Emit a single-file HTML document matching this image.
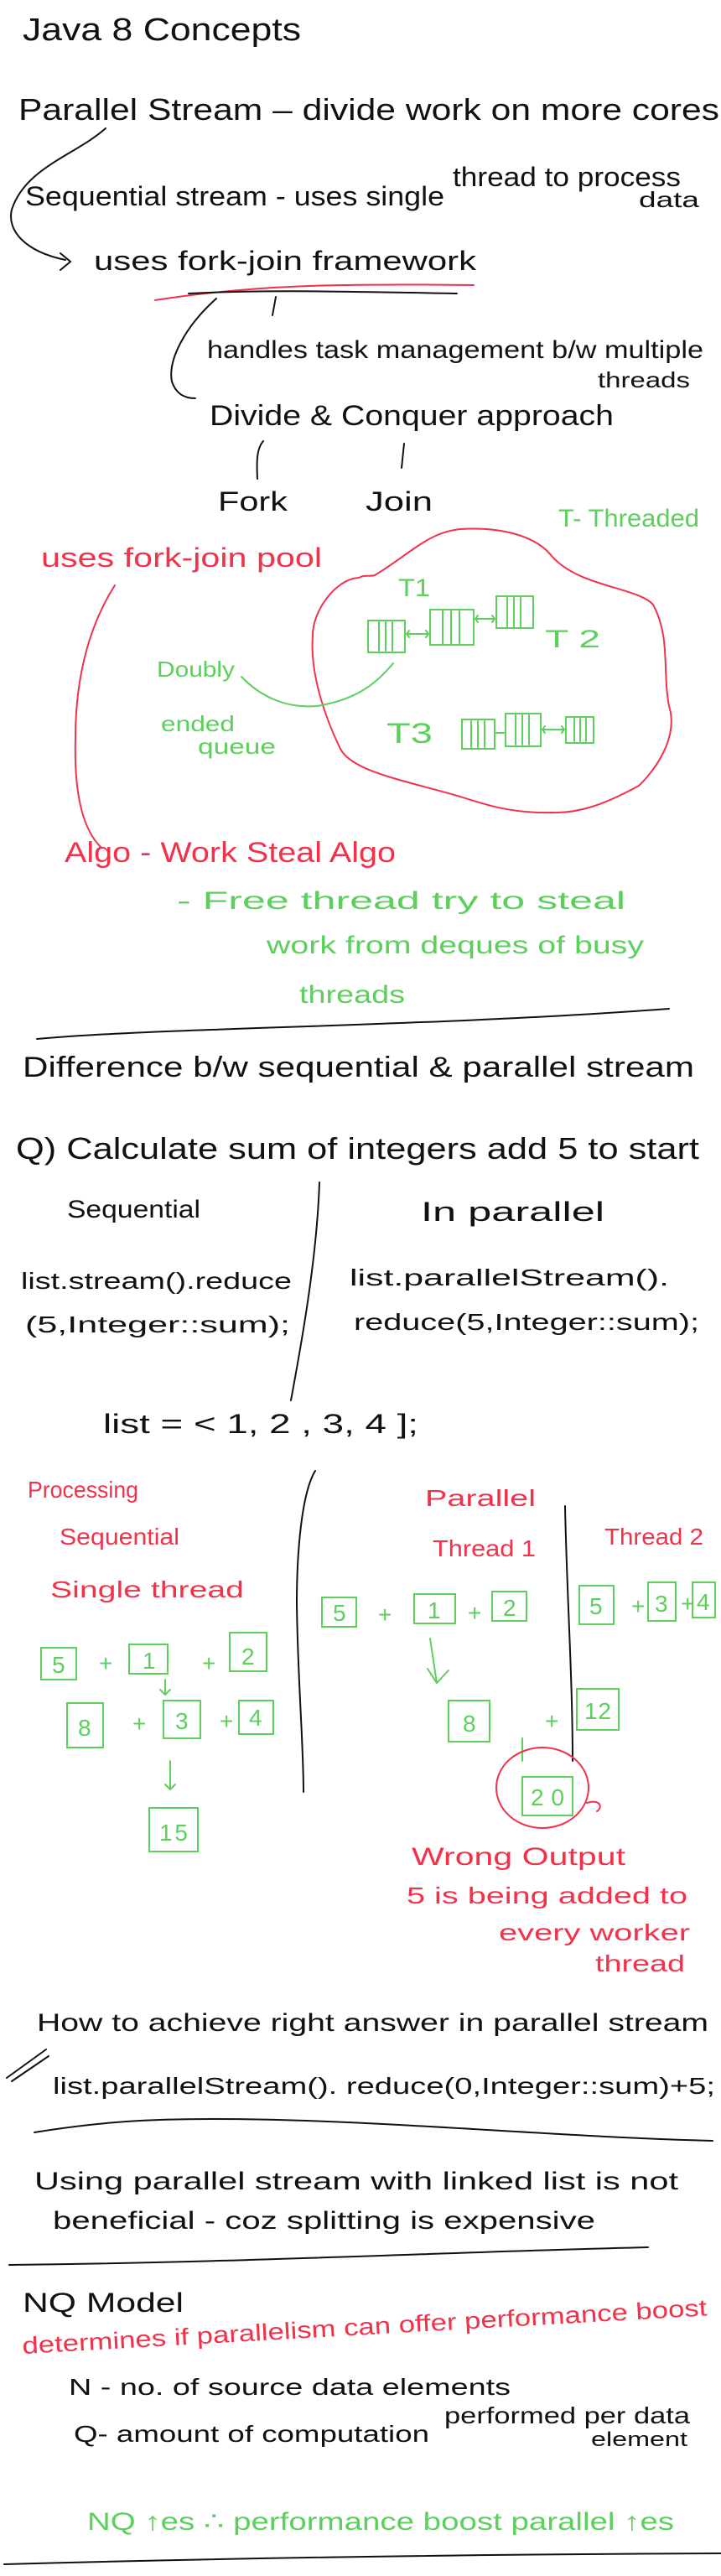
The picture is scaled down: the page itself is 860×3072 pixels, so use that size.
<!DOCTYPE html>
<html><head><meta charset="utf-8"><style>
html,body{margin:0;padding:0;background:#fff;}
svg{display:block;}
text{font-family:"Liberation Sans",sans-serif;}
.k{fill:#111;}
.r{fill:#f0334a;}
.g{fill:#5ccf5c;}
.ks{stroke:#111;fill:none;stroke-width:2;stroke-linecap:round;}
.rs{stroke:#f0334a;fill:none;stroke-width:2;stroke-linecap:round;}
.gs{stroke:#5ccf5c;fill:none;stroke-width:2;stroke-linecap:round;}
</style></head><body>
<svg width="860" height="3072" viewBox="0 0 860 3072" xmlns="http://www.w3.org/2000/svg">
<!-- header -->
<text class="k" x="27" y="48" font-size="38" textLength="332" lengthAdjust="spacingAndGlyphs">Java 8 Concepts</text>
<text class="k" x="22" y="143" font-size="36" textLength="836" lengthAdjust="spacingAndGlyphs">Parallel Stream – divide work on more cores</text>
<text class="k" x="30" y="245" font-size="32" textLength="500" lengthAdjust="spacingAndGlyphs">Sequential stream - uses single</text>
<text class="k" x="540" y="222" font-size="32" textLength="272" lengthAdjust="spacingAndGlyphs">thread to process</text>
<text class="k" x="762" y="247" font-size="26" textLength="72" lengthAdjust="spacingAndGlyphs">data</text>
<path class="ks" d="M126 153 C90 185 30 200 14 250 C8 275 30 300 78 310"/>
<path class="ks" d="M72 302 L84 312 L72 322"/>
<text class="k" x="112" y="322" font-size="32" textLength="456" lengthAdjust="spacingAndGlyphs">uses fork-join framework</text>
<path class="rs" d="M185 358 C300 340 400 338 565 340"/>
<path class="ks" d="M225 350 C320 345 420 348 545 350"/>
<path class="ks" d="M329 354 L325 376"/>
<path class="ks" d="M258 356 C220 390 200 430 205 455 C210 470 220 475 233 475"/>
<text class="k" x="247" y="427" font-size="30" textLength="592" lengthAdjust="spacingAndGlyphs">handles task management b/w multiple</text>
<text class="k" x="713" y="462" font-size="26" textLength="110" lengthAdjust="spacingAndGlyphs">threads</text>
<text class="k" x="250" y="507" font-size="34" textLength="482" lengthAdjust="spacingAndGlyphs">Divide &amp; Conquer approach</text>
<path class="ks" d="M314 526 C306 535 306 550 307 571"/>
<path class="ks" d="M482 529 L479 558"/>
<text class="k" x="260" y="609" font-size="32" textLength="83" lengthAdjust="spacingAndGlyphs">Fork</text>
<text class="k" x="436" y="609" font-size="32" textLength="80" lengthAdjust="spacingAndGlyphs">Join</text>
<text class="g" x="666" y="628" font-size="30" textLength="168" lengthAdjust="spacingAndGlyphs">T- Threaded</text>
<text class="r" x="49" y="676" font-size="32" textLength="335" lengthAdjust="spacingAndGlyphs">uses fork-join pool</text>
<!-- red connector down -->
<path class="rs" d="M137 698 C110 740 90 800 90 880 C88 950 100 990 120 1010"/>
<!-- blob -->
<path class="rs" d="M447 686 C490 660 510 635 549 631 C600 628 640 640 658 663 C690 700 760 700 779 721 C800 760 790 800 798 842 C810 880 780 920 762 937 C720 960 690 970 658 969 C610 970 580 960 549 950 C480 930 420 920 406 893 C385 850 370 800 373 759 C372 730 400 690 428 689 C435 685 440 688 447 686"/>
<!-- T1 -->
<text class="g" x="475" y="711" font-size="30" textLength="38" lengthAdjust="spacingAndGlyphs">T1</text>
<g class="gs">
<rect x="439" y="740" width="44" height="38"/><path d="M452 742V776M460 742V776M468 742V776"/>
<rect x="513" y="727" width="52" height="42"/><path d="M528 729V767M538 729V767M548 729V767"/>
<rect x="592" y="711" width="44" height="38"/><path d="M605 713V747M613 713V747M621 713V747"/>
<path d="M485 756H511M488 752L485 756L488 760M508 752L511 756L508 760"/>
<path d="M567 738H590M570 734L567 738L570 742M587 734L590 738L587 742"/>
</g>
<text class="g" x="650" y="772" font-size="30" textLength="66" lengthAdjust="spacingAndGlyphs">T 2</text>
<text class="g" x="461" y="886" font-size="34" textLength="55" lengthAdjust="spacingAndGlyphs">T3</text>
<g class="gs">
<rect x="551" y="858" width="39" height="35"/><path d="M562 860V891M570 860V891M578 860V891"/>
<rect x="603" y="851" width="42" height="39"/><path d="M615 853V888M623 853V888M631 853V888"/>
<rect x="675" y="855" width="33" height="31"/><path d="M685 857V884M692 857V884M699 857V884"/>
<path d="M592 874H601M647 870H673M650 866L647 870L650 874M670 866L673 870L670 874"/>
</g>
<text class="g" x="187" y="807" font-size="26" textLength="93" lengthAdjust="spacingAndGlyphs">Doubly</text>
<text class="g" x="192" y="872" font-size="26" textLength="88" lengthAdjust="spacingAndGlyphs">ended</text>
<text class="g" x="236" y="899" font-size="26" textLength="93" lengthAdjust="spacingAndGlyphs">queue</text>
<path class="gs" d="M288 807 C310 830 340 845 378 842 C420 835 445 820 469 791"/>
<!-- algo -->
<text class="r" x="77" y="1028" font-size="34" textLength="395" lengthAdjust="spacingAndGlyphs">Algo - Work Steal Algo</text>
<text class="g" x="211" y="1084" font-size="30" textLength="535" lengthAdjust="spacingAndGlyphs">- Free thread try to steal</text>
<text class="g" x="318" y="1137" font-size="30" textLength="450" lengthAdjust="spacingAndGlyphs">work from deques of busy</text>
<text class="g" x="357" y="1196" font-size="30" textLength="126" lengthAdjust="spacingAndGlyphs">threads</text>
<path class="ks" d="M44 1239 C200 1225 500 1225 798 1203"/>
<!-- difference -->
<text class="k" x="27" y="1284" font-size="34" textLength="801" lengthAdjust="spacingAndGlyphs">Difference b/w sequential &amp; parallel stream</text>
<text class="k" x="19" y="1382" font-size="36" textLength="815" lengthAdjust="spacingAndGlyphs">Q) Calculate sum of integers add 5 to start</text>
<text class="k" x="80" y="1452" font-size="30" textLength="159" lengthAdjust="spacingAndGlyphs">Sequential</text>
<text class="k" x="502" y="1456" font-size="32" textLength="219" lengthAdjust="spacingAndGlyphs">In parallel</text>
<path class="ks" d="M381 1410 C378 1500 360 1600 347 1670"/>
<text class="k" x="25" y="1537" font-size="28" textLength="323" lengthAdjust="spacingAndGlyphs">list.stream().reduce</text>
<text class="k" x="30" y="1589" font-size="28" textLength="316" lengthAdjust="spacingAndGlyphs">(5,Integer::sum);</text>
<text class="k" x="417" y="1533" font-size="28" textLength="381" lengthAdjust="spacingAndGlyphs">list.parallelStream().</text>
<text class="k" x="422" y="1586" font-size="28" textLength="412" lengthAdjust="spacingAndGlyphs">reduce(5,Integer::sum);</text>
<text class="k" x="123" y="1709" font-size="32" textLength="376" lengthAdjust="spacingAndGlyphs">list = &lt; 1, 2 , 3, 4 ];</text>
<!-- processing -->
<text class="r" x="33" y="1786" font-size="28" textLength="132" lengthAdjust="spacingAndGlyphs">Processing</text>
<text class="r" x="71" y="1842" font-size="28" textLength="143" lengthAdjust="spacingAndGlyphs">Sequential</text>
<text class="r" x="60" y="1905" font-size="28" textLength="231" lengthAdjust="spacingAndGlyphs">Single thread</text>
<path class="ks" d="M376 1754 C360 1780 354 1850 354 1912 C355 2000 362 2080 362 2137"/>
<text class="r" x="507" y="1796" font-size="28" textLength="132" lengthAdjust="spacingAndGlyphs">Parallel</text>
<text class="r" x="516" y="1856" font-size="28" textLength="123" lengthAdjust="spacingAndGlyphs">Thread 1</text>
<text class="r" x="721" y="1842" font-size="28" textLength="118" lengthAdjust="spacingAndGlyphs">Thread 2</text>
<path class="ks" d="M674 1796 C676 1900 683 2000 683 2100"/>
<g class="gs">
<rect x="49" y="1965" width="42" height="38"/><rect x="154" y="1961" width="46" height="35"/><rect x="274" y="1947" width="44" height="46"/>
<path d="M197 2003V2021M191 2015L197 2021L203 2015"/>
<rect x="80" y="2031" width="43" height="53"/><rect x="195" y="2028" width="44" height="45"/><rect x="285" y="2028" width="41" height="40"/>
<path d="M203 2100V2134M197 2128L203 2134L209 2128"/>
<rect x="178" y="2156" width="58" height="52"/>
<rect x="384" y="1905" width="41" height="35"/><rect x="494" y="1901" width="49" height="35"/><rect x="587" y="1898" width="41" height="35"/>
<path d="M513 1954L521 2007M510 1990L521 2007L535 1992"/>
<rect x="535" y="2028" width="49" height="49"/><rect x="688" y="2014" width="50" height="49"/>
<rect x="691" y="1891" width="41" height="46"/><rect x="773" y="1887" width="33" height="46"/><rect x="826" y="1887" width="27" height="42"/>
<path d="M623 2073V2100"/>
<rect x="623" y="2119" width="60" height="46"/>
</g>
<g class="g" font-size="28">
<text x="62" y="1995">5</text><text x="118" y="1993">+</text><text x="170" y="1990">1</text><text x="241" y="1993">+</text><text x="288" y="1985">2</text>
<text x="93" y="2070">8</text><text x="158" y="2065">+</text><text x="209" y="2062">3</text><text x="262" y="2062">+</text><text x="297" y="2058">4</text>
<text x="190" y="2195" textLength="34">15</text>
<text x="397" y="1933">5</text><text x="451" y="1935">+</text><text x="510" y="1930">1</text><text x="558" y="1933">+</text><text x="600" y="1927">2</text>
<text x="552" y="2065">8</text><text x="650" y="2062">+</text><text x="697" y="2050" textLength="32">12</text>
<text x="703" y="1925">5</text><text x="753" y="1925">+</text><text x="781" y="1922">3</text><text x="812" y="1922">+</text><text x="831" y="1920">4</text>
<text x="633" y="2153" textLength="40">20</text>
</g>
<ellipse class="rs" cx="647" cy="2132" rx="55" ry="48"/>
<path class="rs" d="M700 2150 C715 2145 720 2155 712 2160"/>
<text class="r" x="491" y="2224" font-size="30" textLength="255" lengthAdjust="spacingAndGlyphs">Wrong Output</text>
<text class="r" x="485" y="2270" font-size="28" textLength="335" lengthAdjust="spacingAndGlyphs">5 is being added to</text>
<text class="r" x="595" y="2314" font-size="28" textLength="228" lengthAdjust="spacingAndGlyphs">every worker</text>
<text class="r" x="710" y="2351" font-size="28" textLength="107" lengthAdjust="spacingAndGlyphs">thread</text>
<!-- how to -->
<text class="k" x="44" y="2422" font-size="30" textLength="801" lengthAdjust="spacingAndGlyphs">How to achieve right answer in parallel stream</text>
<path class="ks" d="M8 2478L55 2444M14 2482L58 2452"/>
<text class="k" x="63" y="2497" font-size="28" textLength="790" lengthAdjust="spacingAndGlyphs">list.parallelStream(). reduce(0,Integer::sum)+5;</text>
<path class="ks" d="M41 2543 C120 2530 180 2527 252 2527 C450 2527 650 2548 850 2553"/>
<text class="k" x="41" y="2611" font-size="30" textLength="768" lengthAdjust="spacingAndGlyphs">Using parallel stream with linked list is not</text>
<text class="k" x="63" y="2658" font-size="30" textLength="647" lengthAdjust="spacingAndGlyphs">beneficial - coz splitting is expensive</text>
<path class="ks" d="M11 2701 C300 2698 550 2685 773 2680"/>
<text class="k" x="27" y="2757" font-size="32" textLength="192" lengthAdjust="spacingAndGlyphs">NQ Model</text>
<text class="r" x="27" y="2807" font-size="28" textLength="818" lengthAdjust="spacingAndGlyphs" transform="rotate(-3.2 27 2807)">determines if parallelism can offer performance boost</text>
<text class="k" x="82" y="2856" font-size="28" textLength="527" lengthAdjust="spacingAndGlyphs">N - no. of source data elements</text>
<text class="k" x="88" y="2912" font-size="28" textLength="424" lengthAdjust="spacingAndGlyphs">Q- amount of computation</text>
<text class="k" x="530" y="2890" font-size="28" textLength="293" lengthAdjust="spacingAndGlyphs">performed per data</text>
<text class="k" x="705" y="2917" font-size="24" textLength="115" lengthAdjust="spacingAndGlyphs">element</text>
<text class="g" x="104" y="3017" font-size="30" textLength="700" lengthAdjust="spacingAndGlyphs">NQ ↑es ∴ performance boost parallel ↑es</text>
<path class="ks" d="M5 3058 C300 3050 600 3046 860 3045"/>
</svg>
</body></html>
